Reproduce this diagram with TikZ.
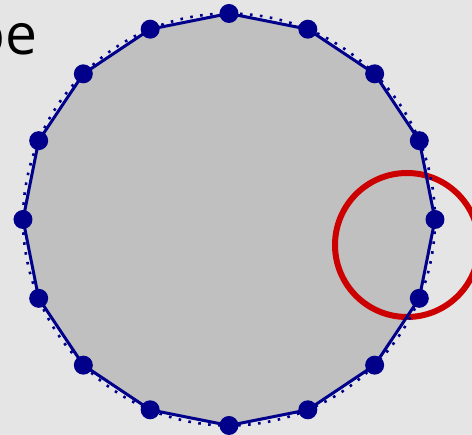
\documentclass[tikz,border=0pt]{standalone}
\usepackage{fontspec}
\setmainfont{Open Sans}
\definecolor{shapenavy}{RGB}{0,0,139}
\definecolor{ringred}{RGB}{204,0,0}
\definecolor{paneback}{RGB}{229,229,229}
\definecolor{shapegray}{RGB}{192,192,192}
\newcommand{\titlefont}{\fontsize{57}{68}\selectfont}

\begin{document}
\begin{tikzpicture}[
  x=1pt,y=1pt,
  every node/.style={font=\titlefont},
  vertex/.style={circle,fill=shapenavy,inner sep=0pt,minimum size=19pt},
  edge/.style={draw=shapenavy,line width=3pt,line join=round},
  circum/.style={draw=shapenavy,line width=2.6pt,dash pattern=on 2.6pt off 7.4pt},
  ring/.style={draw=ringred,line width=6pt}
]
\fill[paneback] (-229,-215.5) rectangle (243,219.5);
\useasboundingbox (-229,-215.5) rectangle (243,219.5);

% corners of the 16-gon
\foreach \i in {1,...,16}
  \coordinate (p\i) at ({90-22.5*(\i-1)}:206);

\fill[shapegray] (p1) \foreach \i in {2,...,16}{ -- (p\i)} -- cycle;
\draw[ring] (178,-25.5) circle (72);
\draw[circum] (0,0) circle (206);

\foreach \i in {1,...,16}{
  \pgfmathtruncatemacro{\j}{mod(\i,16)+1}
  \draw[edge] (p\i) -- (p\j);
}
\foreach \i in {1,...,16}
  \node[vertex] (v\i) at (p\i) {};

\node[anchor=base east,inner sep=0pt] (title) at (-191,164.5) {pe};
\end{tikzpicture}
\end{document}
